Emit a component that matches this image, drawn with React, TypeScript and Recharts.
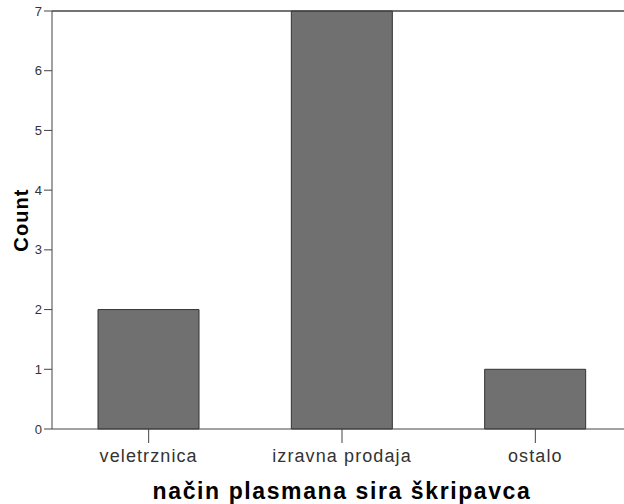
import React from 'react';
import { BarChart, Bar, XAxis, YAxis, ReferenceLine } from 'recharts';

const categories = ['veletrznica', 'izravna prodaja', 'ostalo'];
const counts = [2, 7, 1];
const yTicks = [0, 1, 2, 3, 4, 5, 6, 7];

const data = categories.map((name, i) => ({ name, count: counts[i] }));

const FONT = '"Liberation Sans", Arial, sans-serif';

export default function App() {
  return (
    <div
      style={{
        position: 'absolute',
        left: 0,
        top: 0,
        width: 624,
        height: 504,
        overflow: 'hidden',
        background: '#fff',
        fontFamily: FONT,
      }}
    >
      <BarChart
        width={640}
        height={504}
        data={data}
        margin={{ top: 11, right: 8, left: 0, bottom: 0 }}
      >
        <XAxis
          dataKey="name"
          height={75}
          stroke="#444"
          tickSize={14}
          tickMargin={6}
          tick={{ fill: '#333', fontSize: 18, letterSpacing: 1.1, fontFamily: FONT }}
          label={{
            value: 'način plasmana sira škripavca',
            position: 'insideBottom',
            offset: 5,
            style: { fill: '#000', fontSize: 23, fontWeight: 'bold', letterSpacing: 1.6, fontFamily: FONT },
          }}
        />
        <YAxis
          width={52}
          domain={[0, 7]}
          ticks={yTicks}
          stroke="#444"
          tickSize={8}
          tickMargin={2}
          tick={{ fill: '#333', fontSize: 13, fontFamily: FONT }}
          label={{
            value: 'Count',
            angle: -90,
            position: 'insideLeft',
            offset: 21,
            style: { textAnchor: 'middle', fill: '#000', fontSize: 20, fontWeight: 'bold', letterSpacing: 1.1, fontFamily: FONT },
          }}
        />
        <ReferenceLine y={7} stroke="#444" strokeWidth={1.5} />
        <Bar
          dataKey="count"
          barSize={101}
          fill="#707070"
          stroke="#333"
          strokeWidth={1}
          isAnimationActive={false}
        />
      </BarChart>
    </div>
  );
}
